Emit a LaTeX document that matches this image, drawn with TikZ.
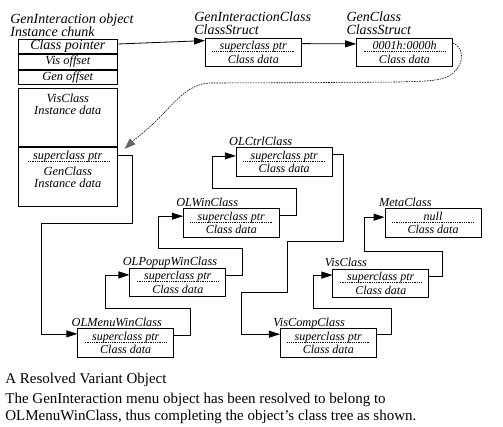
\documentclass[tikz,border=0pt]{standalone}
\usepackage{fontspec}
\setmainfont{Liberation Serif}
\usetikzlibrary{arrows.meta,positioning,calc}

\tikzset{
  dotline/.style={line width=0.5pt, dash pattern=on 0.6pt off 1.2pt},
  cbox/.style={draw, minimum width=96pt, minimum height=28.5pt, inner sep=0pt, align=center,
    font=\fontsize{12}{13.5}\selectfont\itshape,
    path picture={\draw[dotline] ([xshift=7pt,yshift=1pt]path picture bounding box.west) -- ([xshift=-7pt,yshift=1pt]path picture bounding box.east);}},
  ctitle/.style={anchor=base west, inner sep=0pt, font=\fontsize{12.3}{14}\selectfont\itshape},
  slabel/.style={anchor=south west, inner sep=0pt, align=left, font=\fontsize{14}{13}\selectfont\itshape},
  row/.style={draw, minimum width=99pt, inner sep=0pt, font=\fontsize{12.4}{11.5}\selectfont\itshape},
  rowtext/.style={inner sep=0pt, align=center, font=\fontsize{12.4}{12}\selectfont\itshape},
  conn/.style={line width=0.8pt, -{Triangle[length=11pt,width=7pt]}},
  dashconn/.style={line width=0.6pt, dash pattern=on 1.6pt off 1pt,
    -{Triangle[length=11pt,width=8pt,color=black!60]}},
  caption/.style={inner sep=0pt, align=left, font=\fontsize{15}{16.7}\selectfont}
}

\begin{document}
\begin{tikzpicture}[x=1pt, y=-1pt, line width=0.7pt]
    \path[fill=white, use as bounding box] (0,0) rectangle (503,426);

    % Instance chunk of the object
    \node[slabel] (objlabel) at (10,37) {GenInteraction object\\Instance chunk};
    \node[row, minimum height=14.8pt, font=\fontsize{14}{14}\selectfont\itshape] (ptrrow) at (67.8,46.4) {Class pointer};
    \node[row, minimum height=14.8pt, below=0pt of ptrrow] (visoff) {Vis offset};
    \node[row, minimum height=14.8pt, below=0pt of visoff] (genoff) {Gen offset};
    \node[row, minimum height=58.3pt, below=2.7pt of genoff] (visdata) {};
    \node[rowtext, below=5.5pt of visdata.north] (vistext) {VisClass\\Instance data};
    \node[row, minimum height=58.7pt, below=0pt of visdata] (gendata) {};
    \node[rowtext, below=3.5pt of gendata.north] (genptr) {superclass ptr};
    \draw[dotline] ($(gendata.west |- genptr.base)+(10,1.5)$) -- ($(gendata.east |- genptr.base)+(-8,1.5)$);
    \node[rowtext, below=4pt of genptr] (gentext) {GenClass\\Instance data};

    % Class structures
    \node[cbox] (gicls) at (253.3,52.2) {superclass ptr\\Class data};
    \node[cbox] (gencls) at (404.5,52.5) {0001h:0000h\\Class data};
    \node[cbox] (olctrl) at (284.2,162) {superclass ptr\\Class data};
    \node[cbox] (olwin) at (231.3,222.8) {superclass ptr\\Class data};
    \node[cbox] (olpopup) at (177.8,282.5) {superclass ptr\\Class data};
    \node[cbox] (olmenu) at (125.7,343) {superclass ptr\\Class data};
    \node[cbox] (viscomp) at (328.3,342.8) {superclass ptr\\Class data};
    \node[cbox] (viscls) at (380.8,283.2) {superclass ptr\\Class data};
    \node[cbox] (meta) at (433,222.8) {null\\Class data};

    % Labels
    \node[slabel] (giclabel) at ([xshift=-11pt,yshift=3pt]gicls.north west) {GenInteractionClass\\ClassStruct};
    \node[slabel] (genlabel) at ([xshift=-10pt,yshift=3pt]gencls.north west) {GenClass\\ClassStruct};
    \node[ctitle] (olctrltitle) at ([xshift=-7pt,yshift=2pt]olctrl.north west) {OLCtrlClass};
    \node[ctitle] (olwintitle) at ([xshift=-7pt,yshift=2pt]olwin.north west) {OLWinClass};
    \node[ctitle] (olpopuptitle) at ([xshift=-7pt,yshift=2pt]olpopup.north west) {OLPopupWinClass};
    \node[ctitle] (olmenutitle) at ([xshift=-6pt,yshift=2pt]olmenu.north west) {OLMenuWinClass};
    \node[ctitle] (viscomptitle) at ([xshift=-7pt,yshift=2pt]viscomp.north west) {VisCompClass};
    \node[ctitle] (visclstitle) at ([xshift=-8pt,yshift=2pt]viscls.north west) {VisClass};
    \node[ctitle] (metatitle) at ([xshift=-6pt,yshift=2pt]meta.north west) {MetaClass};

    % Pointers
    \draw[conn] ([yshift=2.4pt]ptrrow.east) -- ([yshift=-3pt]gicls.north west);
    \draw[conn] ([yshift=-6pt]gicls.north east) -- ([yshift=-6pt]gencls.north west);
    \draw[dashconn] ([yshift=-5pt]gencls.north east) .. controls (462,46) and (467,62) .. (452,74)
        .. controls (442,82) and (420,81) .. (400,82) -- (300,82.7) -- (210,83)
        .. controls (186,84) and (172,106) .. (156,121)
        .. controls (146,131) and (134,140) .. ([xshift=7pt,yshift=-2pt]gendata.north east);
    \draw[conn] ([yshift=-8.4pt]gendata.north east) -- ++(14.4,0) -- ++(0,68) -- ++(-91,0)
        |- ([yshift=-5.5pt]olmenu.north west);
    \draw[conn] ([yshift=-7pt]olmenu.north east) -- ++(16,0) -- ++(0,-27.5) -- ++(-84.3,0)
        |- ([yshift=-7pt]olpopup.north west);
    \draw[conn] ([yshift=-7pt]olpopup.north east) -- ++(16.6,0) -- ++(0,-26.3) -- ++(-84,0)
        |- ([yshift=-8pt]olwin.north west);
    \draw[conn] ([yshift=-7pt]olwin.north east) -- ++(16.4,0) -- ++(0,-27) -- ++(-84,0)
        |- ([yshift=-8.5pt]olctrl.north west);
    \draw[conn] ([yshift=-6.5pt]olctrl.north east) -- ++(10.5,0) -- ++(0,87.5) -- ++(-55.4,0)
        -- ++(0,51) -- ++(-46.6,0) |- ([yshift=-6pt]viscomp.north west);
    \draw[conn] ([yshift=-6pt]viscomp.north east) -- ++(14.4,0) -- ++(0,-25.5) -- ++(-77.4,0)
        |- ([yshift=-6.5pt]viscls.north west);
    \draw[conn] ([yshift=-7.5pt]viscls.north east) -- ++(13.5,0) -- ++(0,-24.3) -- ++(-78.3,0)
        |- ([yshift=-9pt]meta.north west);

    % Caption
    \node[caption, anchor=west] (captitle) at (5,380) {A Resolved Variant Object};
    \node[caption, anchor=west] (captext) at (5,408.3) {The GenInteraction menu object has been resolved to belong to\\OLMenuWinClass, thus completing the object’s class tree as shown.};
\end{tikzpicture}
\end{document}
